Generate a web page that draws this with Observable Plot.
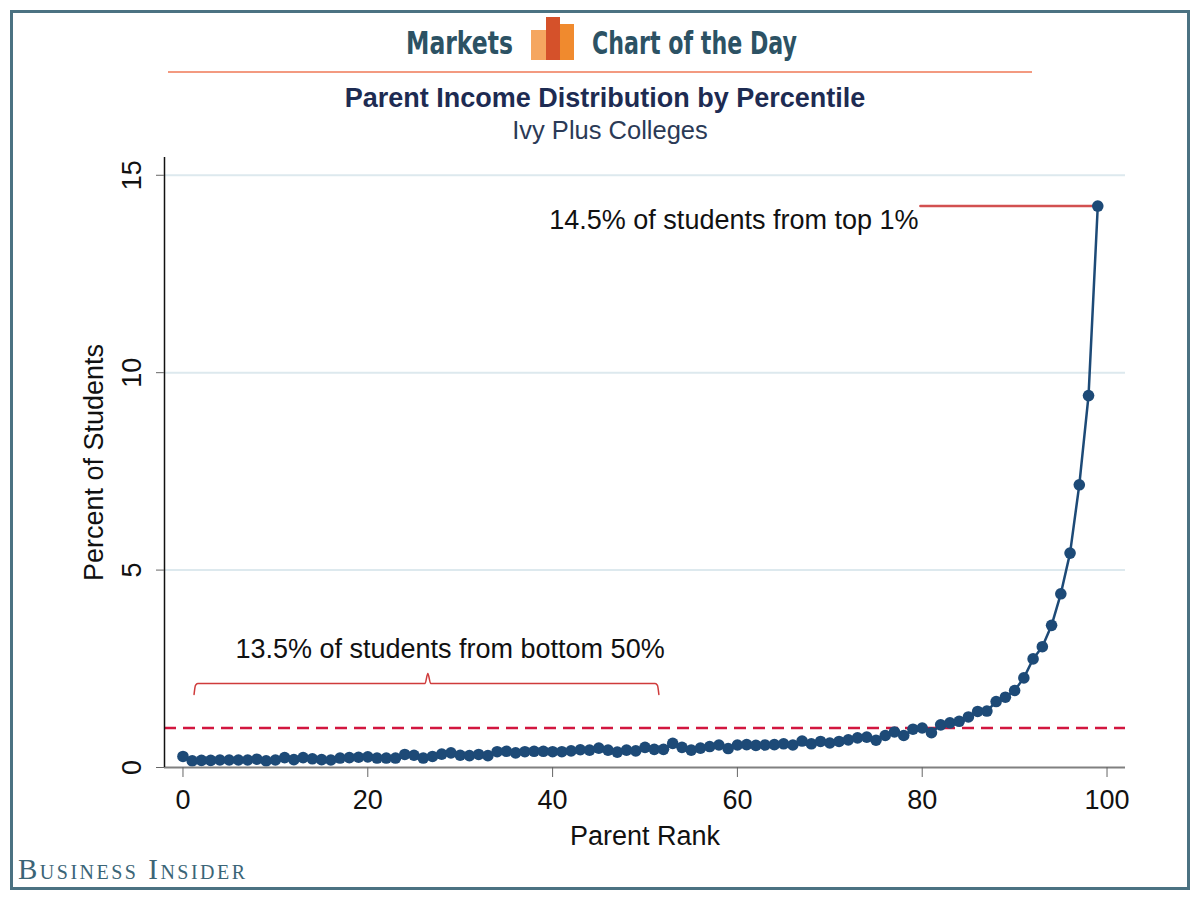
<!DOCTYPE html>
<html>
<head>
<meta charset="utf-8">
<script src="https://cdn.jsdelivr.net/npm/d3@7"></script>
<script src="https://cdn.jsdelivr.net/npm/@observablehq/plot@0.6"></script>
<style>
  body { margin: 0; background: #fff; }
  #wrap { position: relative; width: 1200px; height: 900px; overflow: hidden; background: #fff; font-family: "Liberation Sans", Arial, sans-serif; }
  #chart { position: absolute; left: 0; top: 0; }
  #border { position: absolute; left: 10px; top: 10px; width: 1180px; height: 880px; box-sizing: border-box; border: 3px solid #4b7282; pointer-events: none; }
  .hdr { position: absolute; top: 23px; font-family: "DejaVu Sans", "Liberation Sans", sans-serif; font-weight: bold; font-size: 32px; color: #2c5264; line-height: 40px; white-space: nowrap; transform-origin: 0 50%; }
  .bar { position: absolute; }
  #rule { position: absolute; left: 168px; top: 71px; width: 864px; height: 2px; background: #f39a80; }
  #title { position: absolute; left: 5px; width: 1200px; top: 83px; text-align: center; font-weight: bold; font-size: 27px; color: #1d2b52; line-height: 30px; }
  #subtitle { position: absolute; left: 10px; width: 1200px; top: 115px; text-align: center; font-size: 25.5px; color: #2b3a56; line-height: 30px; }
  #bi { position: absolute; left: 18px; top: 853px; font-family: "Liberation Serif", "DejaVu Serif", serif; font-variant: small-caps; font-size: 29px; color: #3b6577; letter-spacing: 2.5px; line-height: 32px; white-space: nowrap; }
</style>
</head>
<body>
<div id="wrap">
  <div id="chart"></div>
  <div id="border"></div>
  <div class="hdr" id="hdrLeft" style="left:406px;">Markets</div>
  <div class="bar" style="left:531px;top:30px;width:16px;height:30px;background:#f5a660;"></div>
  <div class="bar" style="left:546px;top:17px;width:14px;height:43px;background:#d5512a;"></div>
  <div class="bar" style="left:560px;top:24px;width:14px;height:36px;background:#f08a2e;"></div>
  <div class="hdr" id="hdrRight" style="left:592px;">Chart of the Day</div>
  <div id="rule"></div>
  <div id="title">Parent Income Distribution by Percentile</div>
  <div id="subtitle">Ivy Plus Colleges</div>
  <div id="bi">Business Insider</div>
</div>
<script>
// ---- Data ----
const parentRank = [
  0,1,2,3,4,5,6,7,8,9,10,11,12,13,14,15,16,17,18,19,
  20,21,22,23,24,25,26,27,28,29,30,31,32,33,34,35,36,37,38,39,
  40,41,42,43,44,45,46,47,48,49,50,51,52,53,54,55,56,57,58,59,
  60,61,62,63,64,65,66,67,68,69,70,71,72,73,74,75,76,77,78,79,
  80,81,82,83,84,85,86,87,88,89,90,91,92,93,94,95,96,97,98,99
];
const percentStudents = [
  0.28,0.17,0.18,0.18,0.19,0.19,0.19,0.19,0.21,0.17,
  0.19,0.25,0.20,0.25,0.22,0.20,0.19,0.24,0.25,0.26,
  0.27,0.24,0.24,0.24,0.33,0.31,0.24,0.28,0.34,0.37,
  0.31,0.30,0.33,0.30,0.40,0.41,0.37,0.40,0.41,0.41,
  0.40,0.40,0.42,0.45,0.44,0.49,0.44,0.39,0.44,0.42,
  0.51,0.46,0.46,0.61,0.51,0.44,0.49,0.53,0.57,0.48,
  0.57,0.58,0.56,0.57,0.58,0.60,0.57,0.67,0.60,0.66,
  0.62,0.66,0.70,0.75,0.77,0.69,0.81,0.90,0.81,0.97,
  1.00,0.88,1.08,1.13,1.17,1.28,1.42,1.43,1.67,1.78,
  1.95,2.27,2.75,3.06,3.60,4.40,5.43,7.16,9.42,14.22
];
const xTicks = [0, 20, 40, 60, 80, 100];
const yTicks = [0, 5, 10, 15];
const gridValues = [5, 10, 15];
const referenceLine = [1];
const xLabel = "Parent Rank";
const yLabel = "Percent of Students";

// annotations (data units)
const bottomNote = "13.5% of students from bottom 50%";
const bottomNoteAt = {x: 28.9, y: 3.0};
const braceX = [1.2, 1.35, 1.6, 26.2, 26.5, 26.8, 51.1, 51.35, 51.5];
const braceY = [1.85, 2.08, 2.13, 2.13, 2.38, 2.13, 2.13, 2.08, 1.85];
const topNote = "14.5% of students from top 1%";
const topNoteAt = {x: 79.6, y: 13.85};
const topLeaderX = [79.8, 99];
const topLeaderY = [14.22, 14.22];

const xDomain = [-2, 102];
const yDomain = [0, 15.45];

const data = parentRank.map((r, i) => ({rank: r, pct: percentStudents[i]}));
const brace = braceX.map((x, i) => ({x, y: braceY[i]}));
const leader = topLeaderX.map((x, i) => ({x, y: topLeaderY[i]}));

const navy = "#1d4a77";

const chart = Plot.plot({
  width: 1200,
  height: 900,
  marginTop: 157,
  marginLeft: 164,
  marginRight: 75,
  marginBottom: 133,
  style: {fontFamily: "Liberation Sans, Arial, sans-serif", fontSize: "27px", color: "#111", background: "transparent"},
  x: {domain: xDomain},
  y: {domain: yDomain},
  marks: [
    Plot.gridY(gridValues, {stroke: "#dde9ee", strokeOpacity: 1, strokeWidth: 2}),
    Plot.ruleY(referenceLine, {stroke: "#d2163f", strokeWidth: 2.5, strokeDasharray: "12,7"}),
    Plot.line(brace, {x: "x", y: "y", stroke: "#cf3b3b", strokeWidth: 1.5, curve: "monotone-x"}),
    Plot.line(leader, {x: "x", y: "y", stroke: "#d25050", strokeWidth: 2.5}),
    Plot.line(data, {x: "rank", y: "pct", stroke: navy, strokeWidth: 2.5}),
    Plot.dot(data, {x: "rank", y: "pct", r: 5.8, fill: navy, stroke: "none"}),
    Plot.text([bottomNote], {x: bottomNoteAt.x, y: bottomNoteAt.y, text: d => d, fontSize: 27, fill: "#111", textAnchor: "middle"}),
    Plot.text([topNote], {x: topNoteAt.x, y: topNoteAt.y, text: d => d, fontSize: 27, fill: "#111", textAnchor: "end"}),
    Plot.ruleY([yDomain[0]], {stroke: "#808080", strokeWidth: 2}),
    Plot.ruleX([xDomain[0]], {stroke: "#111", strokeWidth: 1.5}),
    Plot.axisX({ticks: xTicks, tickSize: 10, tickPadding: 12, stroke: "#666", fontSize: 27, label: xLabel, labelAnchor: "center", labelOffset: 77, labelArrow: "none"}),
    Plot.axisY({ticks: yTicks, tickSize: 8, tickPadding: 16, tickRotate: -90, stroke: "#666", fontSize: 27, label: yLabel, labelAnchor: "center", labelOffset: 81, labelArrow: "none"})
  ]
});
document.getElementById("chart").appendChild(chart);

// condense the header words to the reference widths
[["hdrLeft", 107], ["hdrRight", 205]].forEach(([id, w]) => {
  const el = document.getElementById(id);
  const natural = el.getBoundingClientRect().width;
  el.style.transform = `scaleX(${w / natural})`;
});
</script>
</body>
</html>
